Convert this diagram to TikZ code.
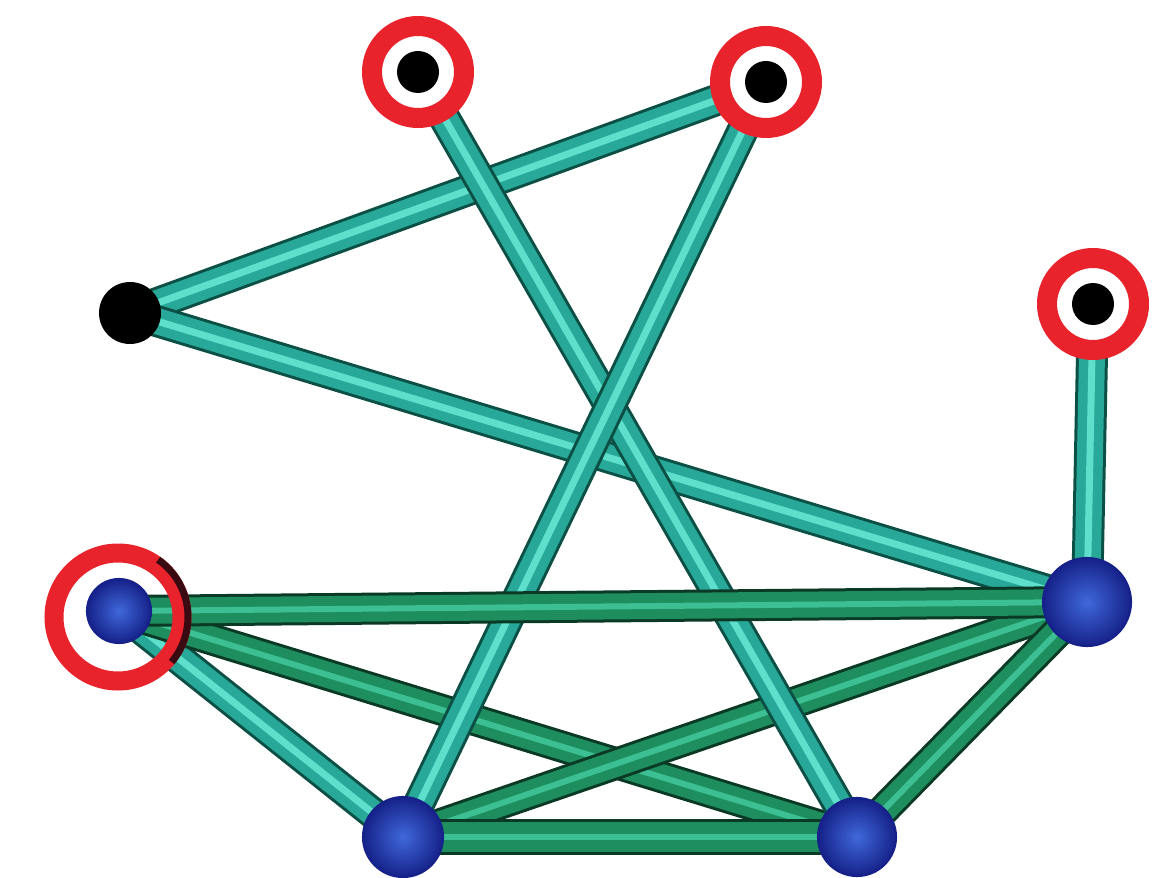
\documentclass[tikz,border=0pt]{standalone}
\usetikzlibrary{backgrounds}
\definecolor{ringred}{HTML}{E8232B}
\definecolor{ringdark}{HTML}{3A0A12}
\definecolor{tealmain}{HTML}{27A898}
\definecolor{tealdark}{HTML}{0B4F45}
\definecolor{teallight}{HTML}{5EDFCB}
\definecolor{greenmain}{HTML}{1E8E5E}
\definecolor{greendark}{HTML}{0A3A26}
\definecolor{greenlight}{HTML}{3CBF92}
\definecolor{bluelight}{HTML}{4068DA}
\definecolor{bluedark}{HTML}{16228A}
\tikzset{
  ringnode/.style={circle, draw=ringred, line width=0.2cm, fill=white, minimum size=0.92cm, inner sep=0pt,
    path picture={\fill[black] (path picture bounding box.center) circle (0.21cm);}},
  bigring/.style={circle, draw=ringred, line width=0.19cm, minimum size=1.28cm, inner sep=0pt},
  blacknode/.style={circle, fill=black, minimum size=0.62cm, inner sep=0pt},
  bluenode/.style={circle, inner color=bluelight, outer color=bluedark, draw=bluedark, line width=0.6pt, minimum size=0.8cm, inner sep=0pt},
  tealedge/.style={draw=tealmain, line width=0.26cm, preaction={draw=tealdark, line width=0.32cm}, postaction={draw=teallight, line width=0.07cm}},
  greenedge/.style={draw=greenmain, line width=0.26cm, preaction={draw=greendark, line width=0.32cm}, postaction={draw=greenlight, line width=0.06cm}}
}
\begin{document}
\begin{tikzpicture}
\useasboundingbox (0,0) rectangle (11.67,8.77);
% nodes
\node[ringnode] (A) at (4.18,8.05) {};
\node[ringnode] (B) at (7.66,7.95) {};
\node[blacknode] (C) at (1.30,5.64) {};
\node[ringnode] (D) at (10.93,5.73) {};
\node[bigring] (Ering) at (1.18,2.60) {};
\draw[ringdark, line width=0.07cm] (Ering.center) ++(-40:0.70) arc[start angle=-40, end angle=55, radius=0.70];
\node[bluenode, minimum size=0.64cm] (E) at (1.19,2.66) {};
\node[bluenode, minimum size=0.88cm] (F) at (10.87,2.75) {};
\node[bluenode] (G) at (4.03,0.40) {};
\node[bluenode, minimum size=0.78cm] (H) at (8.57,0.40) {};
% edges
\begin{pgfonlayer}{background}
\fill[white] (0,0) rectangle (11.67,8.77);
\draw[tealedge] (C.center) -- (B.center);
\draw[tealedge] (C.center) -- (F.center);
\draw[tealedge] (E.center) -- (G.center);
\draw[greenedge] (E.center) -- (H.center);
\draw[greenedge] (G.center) -- (F.center);
\draw[tealedge] (A.center) -- (H.center);
\draw[tealedge] (B.center) -- (G.center);
\draw[tealedge] (D.center) -- (F.center);
\draw[greenedge] (E.center) -- (F.center);
\draw[greenedge] (H.center) -- (F.center);
\draw[greenedge, line width=0.3cm, preaction={draw=greendark, line width=0.36cm}] (G.center) -- (H.center);
\end{pgfonlayer}
\end{tikzpicture}
\end{document}
